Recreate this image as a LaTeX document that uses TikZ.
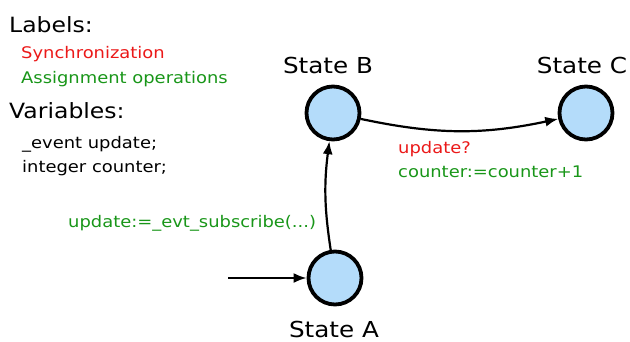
\documentclass[tikz,border=0pt]{standalone}
\usepackage{fontspec}
\setmainfont{DejaVu Sans}[FakeStretch=1.12]
\usetikzlibrary{arrows.meta}
\definecolor{syncred}{RGB}{235,25,25}
\definecolor{assigngreen}{RGB}{25,150,25}
\definecolor{statefill}{RGB}{180,220,250}
\begin{document}
\begin{tikzpicture}[x=1pt,y=-1pt,
  state/.style={circle,draw=black,line width=3.8pt,fill=statefill,minimum size=53pt,inner sep=0pt},
  statename/.style={font=\fontsize{22}{26}\selectfont,anchor=base},
  heading/.style={font=\fontsize{21}{25}\selectfont,anchor=base west,inner sep=0pt},
  item/.style={font=\fontsize{16}{19}\selectfont,anchor=base west,inner sep=0pt},
  edgetext/.style={font=\fontsize{16}{19}\selectfont,anchor=base west,inner sep=0pt},
  trans/.style={line width=2.2pt,-{Latex[length=13pt,width=10pt]}}]
\useasboundingbox (0,0) rectangle (630,341);

% legend
\node[heading] (lblhead) at (9,32) {Labels:};
\node[item,text=syncred] (lblsync) at (21,58) {Synchronization};
\node[item,text=assigngreen] (lblassign) at (21,83) {Assignment operations};
\node[heading] (varhead) at (9,118) {Variables:};
\node[item] (varevent) at (22,148) {\_event update;};
\node[item] (varcounter) at (22,172) {integer counter;};

% states
\node[state] (A) at (335,278) {};
\node[state] (B) at (333,113) {};
\node[state] (C) at (586,113) {};
\node[statename] (Aname) at (334,337) {State A};
\node[statename] (Bname) at (328,73) {State B};
\node[statename] (Cname) at (582,73) {State C};

% transitions
\coordinate (init) at (228,278);
\draw[trans] (init) -- (A);
\draw[trans] (A) to[bend left=8] (B);
\draw[trans] (B) to[bend right=12] (C);

% transition labels
\node[edgetext,text=assigngreen] (subscribe) at (68,227) {update:=\_evt\_subscribe(...)};
\node[edgetext,text=syncred] (sync) at (398,153) {update?};
\node[edgetext,text=assigngreen] (incr) at (398,177) {counter:=counter+1};
\end{tikzpicture}
\end{document}
